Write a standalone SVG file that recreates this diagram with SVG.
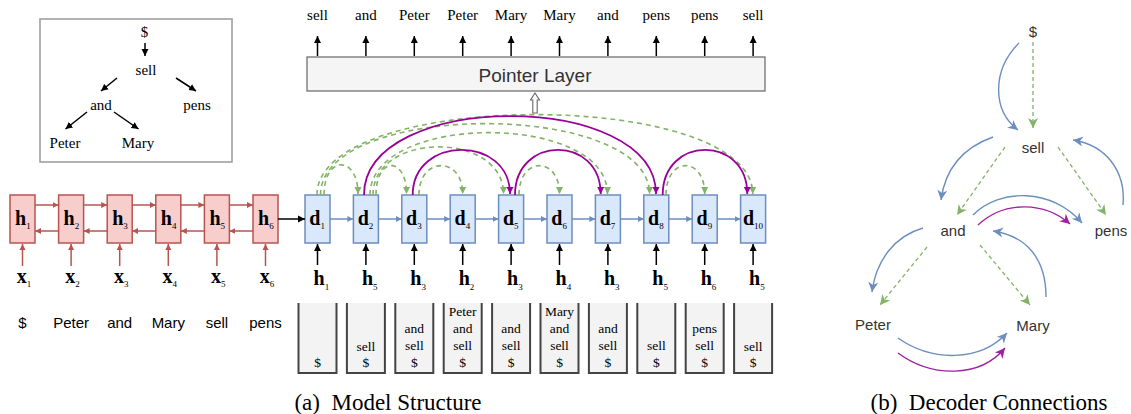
<svg xmlns="http://www.w3.org/2000/svg" width="1131" height="414" viewBox="0 0 1131 414">
<style>
.serif{font-family:"Liberation Serif","Times New Roman",serif;fill:#000}
.sans{font-family:"Liberation Sans",Arial,sans-serif}
.t15{font-size:15px}
.st{font-size:13.5px;text-anchor:middle}
.big{font-size:20px;font-weight:bold}
.sub{font-size:9px;font-weight:normal}
.enc{fill:#f8cecc;stroke:#b85450;stroke-width:1.5}
.dec{fill:#dae8fc;stroke:#6c8ebf;stroke-width:1.5}
.stk{fill:#f3f3f3;stroke:#444;stroke-width:2}
.ra{stroke:#b85450;stroke-width:1.5;fill:none}
.ba{stroke:#6c8ebf;stroke-width:1.5;fill:none}
.ka{stroke:#000;stroke-width:1.5;fill:none}
.ga{stroke:#82b366;stroke-width:1.6;stroke-dasharray:5 4;fill:none}
.pa{stroke:#990099;stroke-width:1.8;fill:none}
.gb{stroke:#82b366;stroke-width:1.3;stroke-dasharray:4 3;fill:none}
.bb{stroke:#6c8ebf;stroke-width:1.4;fill:none}
.pb{stroke:#a020a0;stroke-width:1.4;fill:none}
.lb{font-family:"Liberation Sans",Arial,sans-serif;font-size:15px;fill:#333;text-anchor:middle}
</style>
<defs>
<marker id="mk" markerUnits="userSpaceOnUse" markerWidth="8" markerHeight="8" refX="7" refY="4" orient="auto"><path d="M0,0.5 L7,4 L0,7.5 z" fill="#000"/></marker>
<marker id="mr" markerUnits="userSpaceOnUse" markerWidth="7" markerHeight="7" refX="6" refY="3.5" orient="auto"><path d="M0,0.5 L6,3.5 L0,6.5 z" fill="#b85450"/></marker>
<marker id="mbl" markerUnits="userSpaceOnUse" markerWidth="7" markerHeight="7" refX="6" refY="3.5" orient="auto"><path d="M0,0.5 L6,3.5 L0,6.5 z" fill="#6c8ebf"/></marker>
<marker id="mg" markerUnits="userSpaceOnUse" markerWidth="8" markerHeight="8" refX="7" refY="4" orient="auto"><path d="M0,0.5 L7,4 L0,7.5 z" fill="#82b366"/></marker>
<marker id="mp" markerUnits="userSpaceOnUse" markerWidth="8" markerHeight="8" refX="7" refY="4" orient="auto"><path d="M0,0.5 L7,4 L0,7.5 z" fill="#990099"/></marker>
<marker id="mbn" markerUnits="userSpaceOnUse" markerWidth="12" markerHeight="12" refX="10" refY="6" orient="auto"><path d="M0,1 L10,6 L0,11 L3,6 z" fill="#6c8ebf"/></marker>
<marker id="mgn" markerUnits="userSpaceOnUse" markerWidth="12" markerHeight="12" refX="10" refY="6" orient="auto"><path d="M0,1 L10,6 L0,11 L3,6 z" fill="#82b366"/></marker>
<marker id="mpn" markerUnits="userSpaceOnUse" markerWidth="12" markerHeight="12" refX="10" refY="6" orient="auto"><path d="M0,1 L10,6 L0,11 L3,6 z" fill="#a020a0"/></marker>
</defs>

<!-- Tree panel -->
<g id="tree">
<rect x="40" y="19" width="192" height="143" fill="#fff" stroke="#999" stroke-width="1.5"/>
<g class="serif t15" text-anchor="middle">
<text x="144.5" y="37">$</text>
<text x="146" y="75">sell</text>
<text x="101" y="110">and</text>
<text x="197" y="110">pens</text>
<text x="65" y="148">Peter</text>
<text x="138" y="148">Mary</text>
</g>
<g class="ka" stroke-width="1.3">
<line x1="145" y1="43" x2="145" y2="56" marker-end="url(#mk)"/>
<line x1="117" y1="78" x2="101" y2="91" marker-end="url(#mk)"/>
<line x1="176" y1="78" x2="196" y2="91" marker-end="url(#mk)"/>
<line x1="87" y1="112" x2="65.5" y2="129" marker-end="url(#mk)"/>
<line x1="114" y1="112" x2="138.5" y2="129" marker-end="url(#mk)"/>
</g>
</g>

<!-- Encoder -->
<g id="encoder">
<rect class="enc" x="10" y="195" width="25" height="48"/>
<rect class="enc" x="58.6" y="195" width="25" height="48"/>
<rect class="enc" x="107.2" y="195" width="25" height="48"/>
<rect class="enc" x="155.8" y="195" width="25" height="48"/>
<rect class="enc" x="204.4" y="195" width="25" height="48"/>
<rect class="enc" x="253" y="195" width="25" height="48"/>
<g class="serif big">
<text x="15" y="225">h<tspan class="sub" dy="4">1</tspan></text>
<text x="63.6" y="225">h<tspan class="sub" dy="4">2</tspan></text>
<text x="112.2" y="225">h<tspan class="sub" dy="4">3</tspan></text>
<text x="160.8" y="225">h<tspan class="sub" dy="4">4</tspan></text>
<text x="209.4" y="225">h<tspan class="sub" dy="4">5</tspan></text>
<text x="258" y="225">h<tspan class="sub" dy="4">6</tspan></text>
</g>
<g class="serif big">
<text x="16.7" y="283">x<tspan class="sub" dy="4">1</tspan></text>
<text x="65.3" y="283">x<tspan class="sub" dy="4">2</tspan></text>
<text x="113.9" y="283">x<tspan class="sub" dy="4">3</tspan></text>
<text x="162.5" y="283">x<tspan class="sub" dy="4">4</tspan></text>
<text x="211.1" y="283">x<tspan class="sub" dy="4">5</tspan></text>
<text x="259.7" y="283">x<tspan class="sub" dy="4">6</tspan></text>
</g>
<g class="sans t15" text-anchor="middle">
<text x="22.5" y="328">$</text>
<text x="71.1" y="328">Peter</text>
<text x="119.7" y="328">and</text>
<text x="168.3" y="328">Mary</text>
<text x="216.9" y="328">sell</text>
<text x="265.5" y="328">pens</text>
</g>
</g>

<!-- Decoder -->
<g id="decoder">
<rect class="dec" x="305" y="195" width="25" height="48"/>
<rect class="dec" x="353.4" y="195" width="25" height="48"/>
<rect class="dec" x="401.8" y="195" width="25" height="48"/>
<rect class="dec" x="450.2" y="195" width="25" height="48"/>
<rect class="dec" x="498.6" y="195" width="25" height="48"/>
<rect class="dec" x="547" y="195" width="25" height="48"/>
<rect class="dec" x="595.4" y="195" width="25" height="48"/>
<rect class="dec" x="643.8" y="195" width="25" height="48"/>
<rect class="dec" x="692.2" y="195" width="25" height="48"/>
<rect class="dec" x="740.6" y="195" width="25" height="48"/>
<g class="serif big">
<text x="309.3" y="225">d<tspan class="sub" dy="4">1</tspan></text>
<text x="357.7" y="225">d<tspan class="sub" dy="4">2</tspan></text>
<text x="406.1" y="225">d<tspan class="sub" dy="4">3</tspan></text>
<text x="454.5" y="225">d<tspan class="sub" dy="4">4</tspan></text>
<text x="502.9" y="225">d<tspan class="sub" dy="4">5</tspan></text>
<text x="551.3" y="225">d<tspan class="sub" dy="4">6</tspan></text>
<text x="599.7" y="225">d<tspan class="sub" dy="4">7</tspan></text>
<text x="648.1" y="225">d<tspan class="sub" dy="4">8</tspan></text>
<text x="696.5" y="225">d<tspan class="sub" dy="4">9</tspan></text>
<text x="742.9" y="225">d<tspan class="sub" dy="4">10</tspan></text>
</g>
<g class="serif big">
<text x="313.5" y="285">h<tspan class="sub" dy="5">1</tspan></text>
<text x="361.9" y="285">h<tspan class="sub" dy="5">5</tspan></text>
<text x="410.3" y="285">h<tspan class="sub" dy="5">3</tspan></text>
<text x="458.7" y="285">h<tspan class="sub" dy="5">2</tspan></text>
<text x="507.1" y="285">h<tspan class="sub" dy="5">3</tspan></text>
<text x="555.5" y="285">h<tspan class="sub" dy="5">4</tspan></text>
<text x="603.9" y="285">h<tspan class="sub" dy="5">3</tspan></text>
<text x="652.3" y="285">h<tspan class="sub" dy="5">5</tspan></text>
<text x="700.7" y="285">h<tspan class="sub" dy="5">6</tspan></text>
<text x="749.1" y="285">h<tspan class="sub" dy="5">5</tspan></text>
</g>
</g>

<!-- Stacks -->
<g id="stacks">
<path class="stk" d="M298.5,303 V373 H336.5 V303"/>
<path class="stk" d="M346.9,303 V373 H384.9 V303"/>
<path class="stk" d="M395.3,303 V373 H433.3 V303"/>
<path class="stk" d="M443.7,303 V373 H481.7 V303"/>
<path class="stk" d="M492.1,303 V373 H530.1 V303"/>
<path class="stk" d="M540.5,303 V373 H578.5 V303"/>
<path class="stk" d="M588.9,303 V373 H626.9 V303"/>
<path class="stk" d="M637.3,303 V373 H675.3 V303"/>
<path class="stk" d="M685.7,303 V373 H723.7 V303"/>
<path class="stk" d="M734.1,303 V373 H772.1 V303"/>
<g class="serif st">
<text x="317.5" y="367">$</text>
<text x="365.9" y="351">sell</text><text x="365.9" y="367">$</text>
<text x="414.3" y="333">and</text><text x="414.3" y="350">sell</text><text x="414.3" y="367">$</text>
<text x="462.7" y="316">Peter</text><text x="462.7" y="333">and</text><text x="462.7" y="350">sell</text><text x="462.7" y="367">$</text>
<text x="511.1" y="333">and</text><text x="511.1" y="350">sell</text><text x="511.1" y="367">$</text>
<text x="559.5" y="316">Mary</text><text x="559.5" y="333">and</text><text x="559.5" y="350">sell</text><text x="559.5" y="367">$</text>
<text x="607.9" y="333">and</text><text x="607.9" y="350">sell</text><text x="607.9" y="367">$</text>
<text x="656.3" y="350">sell</text><text x="656.3" y="367">$</text>
<text x="704.7" y="333">pens</text><text x="704.7" y="350">sell</text><text x="704.7" y="367">$</text>
<text x="753.1" y="351">sell</text><text x="753.1" y="367">$</text>
</g>
</g>

<!-- Pointer layer -->
<g id="pointer">
<rect x="307" y="57" width="458" height="34" fill="#f5f5f5" stroke="#666" stroke-width="1.2"/>
<text class="sans" x="535" y="81.5" font-size="19" fill="#333" text-anchor="middle">Pointer Layer</text>
<path d="M535,93 L539.5,100 L537.2,100 L537.2,113 L532.8,113 L532.8,100 L530.5,100 Z" fill="#fff" stroke="#666" stroke-width="1.1"/>
</g>
<g id="outputs" class="serif t15" text-anchor="middle">
<text x="317.5" y="20">sell</text>
<text x="365.9" y="20">and</text>
<text x="414.3" y="20">Peter</text>
<text x="462.7" y="20">Peter</text>
<text x="511.1" y="20">Mary</text>
<text x="559.5" y="20">Mary</text>
<text x="607.9" y="20">and</text>
<text x="656.3" y="20">pens</text>
<text x="704.7" y="20">pens</text>
<text x="753.1" y="20">sell</text>
</g>

<!-- Connectors -->
<g id="connectors">
<g class="ra">
<line x1="35" y1="205" x2="58.6" y2="205" marker-end="url(#mr)"/>
<line x1="83.6" y1="205" x2="107.2" y2="205" marker-end="url(#mr)"/>
<line x1="132.2" y1="205" x2="155.8" y2="205" marker-end="url(#mr)"/>
<line x1="180.8" y1="205" x2="204.4" y2="205" marker-end="url(#mr)"/>
<line x1="229.4" y1="205" x2="253" y2="205" marker-end="url(#mr)"/>
<line x1="58.6" y1="231" x2="35" y2="231" marker-end="url(#mr)"/>
<line x1="107.2" y1="231" x2="83.6" y2="231" marker-end="url(#mr)"/>
<line x1="155.8" y1="231" x2="132.2" y2="231" marker-end="url(#mr)"/>
<line x1="204.4" y1="231" x2="180.8" y2="231" marker-end="url(#mr)"/>
<line x1="253" y1="231" x2="229.4" y2="231" marker-end="url(#mr)"/>
<line x1="22.5" y1="266" x2="22.5" y2="244" marker-end="url(#mr)"/>
<line x1="71.1" y1="266" x2="71.1" y2="244" marker-end="url(#mr)"/>
<line x1="119.7" y1="266" x2="119.7" y2="244" marker-end="url(#mr)"/>
<line x1="168.3" y1="266" x2="168.3" y2="244" marker-end="url(#mr)"/>
<line x1="216.9" y1="266" x2="216.9" y2="244" marker-end="url(#mr)"/>
<line x1="265.5" y1="266" x2="265.5" y2="244" marker-end="url(#mr)"/>
</g>
<line class="ka" x1="278" y1="219" x2="305" y2="219" marker-end="url(#mk)"/>
<g class="ba">
<line x1="330" y1="219" x2="353.4" y2="219" marker-end="url(#mbl)"/>
<line x1="378.4" y1="219" x2="401.8" y2="219" marker-end="url(#mbl)"/>
<line x1="426.8" y1="219" x2="450.2" y2="219" marker-end="url(#mbl)"/>
<line x1="475.2" y1="219" x2="498.6" y2="219" marker-end="url(#mbl)"/>
<line x1="523.6" y1="219" x2="547" y2="219" marker-end="url(#mbl)"/>
<line x1="572" y1="219" x2="595.4" y2="219" marker-end="url(#mbl)"/>
<line x1="620.4" y1="219" x2="643.8" y2="219" marker-end="url(#mbl)"/>
<line x1="668.8" y1="219" x2="692.2" y2="219" marker-end="url(#mbl)"/>
<line x1="717.2" y1="219" x2="740.6" y2="219" marker-end="url(#mbl)"/>
</g>
<g class="ka" stroke-width="1.4">
<line x1="317.5" y1="265" x2="317.5" y2="244" marker-end="url(#mk)"/>
<line x1="365.9" y1="265" x2="365.9" y2="244" marker-end="url(#mk)"/>
<line x1="414.3" y1="265" x2="414.3" y2="244" marker-end="url(#mk)"/>
<line x1="462.7" y1="265" x2="462.7" y2="244" marker-end="url(#mk)"/>
<line x1="511.1" y1="265" x2="511.1" y2="244" marker-end="url(#mk)"/>
<line x1="559.5" y1="265" x2="559.5" y2="244" marker-end="url(#mk)"/>
<line x1="607.9" y1="265" x2="607.9" y2="244" marker-end="url(#mk)"/>
<line x1="656.3" y1="265" x2="656.3" y2="244" marker-end="url(#mk)"/>
<line x1="704.7" y1="265" x2="704.7" y2="244" marker-end="url(#mk)"/>
<line x1="753.1" y1="265" x2="753.1" y2="244" marker-end="url(#mk)"/>
<line x1="317.5" y1="56" x2="317.5" y2="36" marker-end="url(#mk)"/>
<line x1="365.9" y1="56" x2="365.9" y2="36" marker-end="url(#mk)"/>
<line x1="414.3" y1="56" x2="414.3" y2="36" marker-end="url(#mk)"/>
<line x1="462.7" y1="56" x2="462.7" y2="36" marker-end="url(#mk)"/>
<line x1="511.1" y1="56" x2="511.1" y2="36" marker-end="url(#mk)"/>
<line x1="559.5" y1="56" x2="559.5" y2="36" marker-end="url(#mk)"/>
<line x1="607.9" y1="56" x2="607.9" y2="36" marker-end="url(#mk)"/>
<line x1="656.3" y1="56" x2="656.3" y2="36" marker-end="url(#mk)"/>
<line x1="704.7" y1="56" x2="704.7" y2="36" marker-end="url(#mk)"/>
<line x1="753.1" y1="56" x2="753.1" y2="36" marker-end="url(#mk)"/>
</g>
<!-- green dashed arcs -->
<g class="ga">
<path d="M324,195 C324,155 358,155 358,194" marker-end="url(#mg)"/>
<path d="M376,195 C376,156 406.5,156 406.5,194" marker-end="url(#mg)"/>
<path d="M419,195 C419,156 462.7,156 462.7,194" marker-end="url(#mg)"/>
<path d="M373,195 C373,131 503.5,131 503.5,194" marker-end="url(#mg)"/>
<path d="M519,195 C519,156 559.5,156 559.5,194" marker-end="url(#mg)"/>
<path d="M370,195 C370,112 607.5,112 607.5,194" marker-end="url(#mg)"/>
<path d="M320.5,195 C320.5,100 649.5,100 649.5,194" marker-end="url(#mg)"/>
<path d="M666,195 C666,156 704.7,156 704.7,194" marker-end="url(#mg)"/>
<path d="M317,195 C317,88 752.7,88 752.7,194" marker-end="url(#mg)"/>
</g>
<!-- purple arcs -->
<g class="pa">
<path d="M364,195 C364,90 656,90 656,194" marker-end="url(#mp)"/>
<path d="M412.7,195 C412.7,135 510,135 510,194" marker-end="url(#mp)"/>
<path d="M515,195 C515,135 600.7,135 600.7,194" marker-end="url(#mp)"/>
<path d="M662.7,195 C662.7,135 747.3,135 747.3,194" marker-end="url(#mp)"/>
</g>
<!-- panel b connectors -->
<g class="bb">
<path d="M1019,43 C992,70 992,110 1018,130" marker-end="url(#mbn)"/>
<path d="M993,137 C962,148 945,170 941,200" marker-end="url(#mbn)"/>
<path d="M1123,205 C1126,170 1105,145 1073,140" marker-end="url(#mbn)"/>
<path d="M973,215 C1000,188 1052,188 1082,223" marker-end="url(#mbn)"/>
<path d="M923,228 C895,236 876,260 872,292" marker-end="url(#mbn)"/>
<path d="M1046,297 C1046,258 1026,236 993,231" marker-end="url(#mbn)"/>
<path d="M898,338 C932,362 980,362 1007,333" marker-end="url(#mbn)"/>
</g>
<g class="pb">
<path d="M978,225 C1005,200 1045,202 1070,224" marker-end="url(#mpn)"/>
<path d="M898,353 C932,378 980,378 1005,348" marker-end="url(#mpn)"/>
</g>
<g class="gb">
<path d="M1033,42 L1033,128" marker-end="url(#mgn)"/>
<path d="M1005,147 L957,215" marker-end="url(#mgn)"/>
<path d="M1058,147 L1106,215" marker-end="url(#mgn)"/>
<path d="M927,247 L880,305" marker-end="url(#mgn)"/>
<path d="M980,245 L1030,305" marker-end="url(#mgn)"/>
</g>
</g>

<!-- Panel b nodes -->
<g id="n-dollar"><text class="lb" x="1033" y="37">$</text></g>
<g id="n-sell"><text class="lb" x="1033" y="153">sell</text></g>
<g id="n-and"><text class="lb" x="953" y="236">and</text></g>
<g id="n-pens"><text class="lb" x="1111" y="236">pens</text></g>
<g id="n-peter"><text class="lb" x="873" y="330">Peter</text></g>
<g id="n-mary"><text class="lb" x="1033" y="331">Mary</text></g>

<!-- Captions -->
<g id="captions" class="serif" font-size="23" text-anchor="middle">
<text x="388" y="410" xml:space="preserve">(a)  Model Structure</text>
<text x="989" y="410" xml:space="preserve">(b)  Decoder Connections</text>
</g>
</svg>
